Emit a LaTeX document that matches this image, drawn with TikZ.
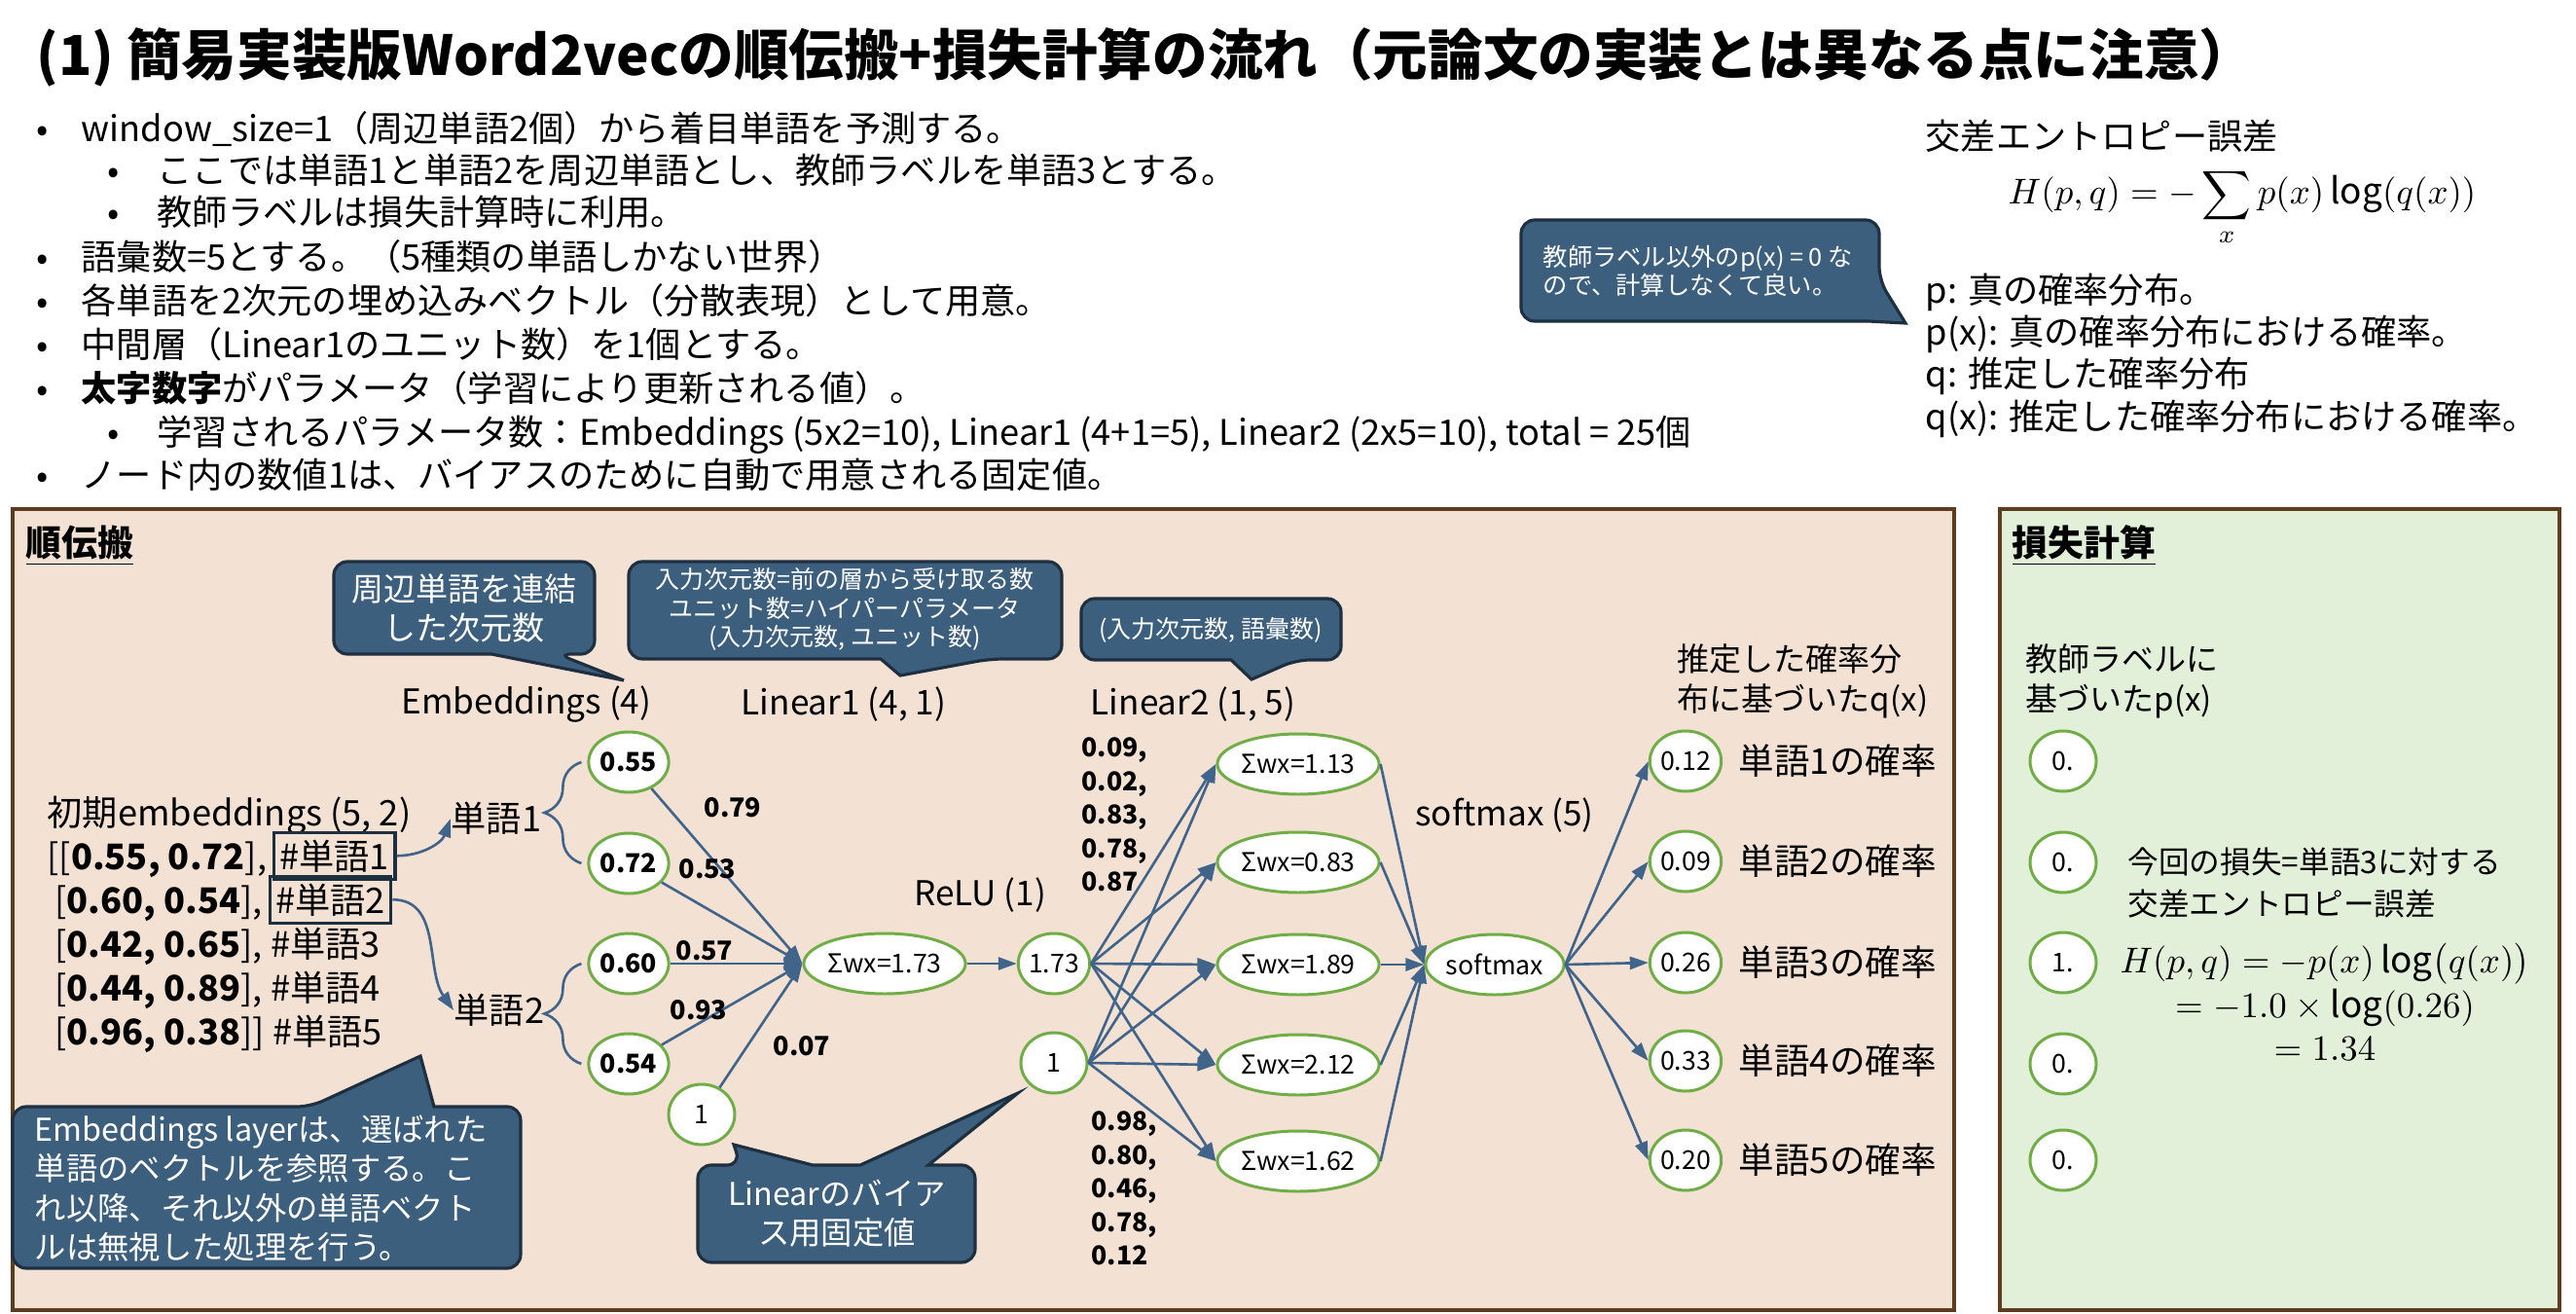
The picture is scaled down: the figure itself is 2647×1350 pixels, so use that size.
\documentclass[tikz,border=0pt]{standalone}
\usepackage{fix-cm}
\usepackage{fontspec}
\setmainfont{Noto Sans CJK JP}
\usetikzlibrary{arrows.meta,shapes.geometric,decorations.pathreplacing}

\definecolor{lineblue}{HTML}{41648A}
\definecolor{nodegreen}{HTML}{70AD47}
\definecolor{calloutfill}{HTML}{3C5F7E}
\definecolor{calloutline}{HTML}{1E2F40}
\definecolor{fwdfill}{HTML}{F3E1D3}
\definecolor{lossfill}{HTML}{E2F0D9}
\definecolor{panelline}{HTML}{5E3C1F}

\newcommand{\fsz}[2]{\fontsize{#1}{#2}\selectfont}

\begin{document}
\begin{tikzpicture}[x=0.1mm,y=-0.1mm,
  neuron/.style={ellipse,draw=nodegreen,line width=0.85pt,fill=white,inner sep=0pt,
    minimum width=6.8mm,minimum height=6.2mm,font=\fsz{7.6}{9}},
  sumnode/.style={neuron,minimum width=16.2mm},
  conn/.style={draw=lineblue,line width=0.75pt,-{Triangle[length=1.9mm,width=1.3mm]}},
  brc/.style={draw=lineblue,line width=0.75pt,decorate,decoration={brace,amplitude=3.8mm}},
  wlab/.style={font=\bfseries\fsz{7.7}{9},inner sep=0pt},
  wcol/.style={font=\bfseries\fsz{7.6}{9.85},align=left,inner sep=0pt},
  lay/.style={font=\fsz{10}{12},inner sep=0pt},
  body/.style={font=\fsz{10.3}{12.5},inner sep=0pt},
  panel/.style={draw=panelline,line width=1.2pt},
  callout/.style={fill=calloutfill,draw=calloutline,line width=0.9pt},
  callouttext/.style={text=white,align=center,inner sep=0pt},
  tagbox/.style={draw=calloutline,line width=0.9pt,inner xsep=0.6mm,inner ysep=0pt,
    minimum height=4.8mm,font=\fsz{10.3}{12}}]

  \fill[white] (0,0) rectangle (2647,1350);
  \useasboundingbox (0,0) rectangle (2647,1350);

  % title and notes
  \node[anchor=base west,font=\bfseries\fsz{16.1}{18},inner sep=0pt] (title) at (37,78)
    {(1) 簡易実装版Word2vecの順伝搬+損失計算の流れ（元論文の実装とは異なる点に注意）};
  \foreach \yy/\xx/\bx/\txt [count=\k] in {
    146/83/44/{window\_size=1（周辺単語2個）から着目単語を予測する。},
    189/161/117/{ここでは単語1と単語2を周辺単語とし、教師ラベルを単語3とする。},
    232/161/117/{教師ラベルは損失計算時に利用。},
    277/83/44/{語彙数=5とする。（5種類の単語しかない世界）},
    322/83/44/{各単語を2次元の埋め込みベクトル（分散表現）として用意。},
    367/83/44/{中間層（Linear1のユニット数）を1個とする。},
    412/83/44/{\textbf{太字数字}がパラメータ（学習により更新される値）。},
    457/161/117/{学習されるパラメータ数：Embeddings (5x2=10), Linear1 (4+1=5), Linear2 (2x5=10), total = 25個},
    501/83/44/{ノード内の数値1は、バイアスのために自動で用意される固定値。}} {
    \node[body,anchor=base] (dot\k) at (\bx,\yy) {•};
    \node[body,anchor=base west] (bl\k) at (\xx,\yy) {\txt};
  }

  % cross entropy
  \node[body,anchor=base west] (cehead) at (1978,154) {交差エントロピー誤差};
  \node[font=\fsz{10.5}{12}] (ceform) at (2304,213)
    {$\displaystyle H(p,q)=-\sum_x p(x)\log(q(x))$};
  \node[body,anchor=base west] (def1) at (1978,311) {p: 真の確率分布。};
  \node[body,anchor=base west] (def2) at (1978,354) {p(x): 真の確率分布における確率。};
  \node[body,anchor=base west] (def3) at (1978,397) {q: 推定した確率分布};
  \node[body,anchor=base west] (def4) at (1978,441) {q(x): 推定した確率分布における確率。};

  \draw[callout] (1747,226) [rounded corners=1.4mm] -- (1931,226) -- (1931,288)
    [sharp corners] -- (1958,332) -- (1920,330) [rounded corners=1.4mm] -- (1563,330)
    -- (1563,226) -- cycle;
  \node[callouttext,align=left,anchor=west,font=\fsz{7.2}{8.3}] (c4) at (1585,278)
    {教師ラベル以外のp(x) = 0 な\\ので、計算しなくて良い。};

  % panels
  \draw[panel,fill=fwdfill] (13,523) rectangle (2008,1346);
  \draw[panel,fill=lossfill] (2055,523) rectangle (2630,1346);
  \node[anchor=base west,font=\bfseries\fsz{10.5}{12},inner sep=0pt] (fwdhead) at (26,571) {\underline{順伝搬}};
  \node[anchor=base west,font=\bfseries\fsz{10.5}{12},inner sep=0pt] (losshead) at (2067,571) {\underline{損失計算}};

  % callouts
  \draw[callout] (477,577) [rounded corners=1.4mm] -- (611,577) -- (611,672) -- (573,672)
    [sharp corners] -- (641,699) -- (505,672) [rounded corners=1.4mm] -- (343,672)
    -- (343,577) -- cycle;
  \node[callouttext,font=\fsz{9.4}{11.4}] (c1) at (477,625) {周辺単語を連結\\した次元数};
  \draw[callout] (868,577) [rounded corners=1.4mm] -- (1091,577) -- (1091,677) -- (1017,677)
    [sharp corners] -- (925,694) -- (905,677) [rounded corners=1.4mm] -- (646,677)
    -- (646,577) -- cycle;
  \node[callouttext,font=\fsz{7.1}{8.5}] (c2) at (868,626)
    {入力次元数=前の層から受け取る数\\ユニット数=ハイパーパラメータ\\(入力次元数, ユニット数)};
  \draw[callout] (1244,615) [rounded corners=1.4mm] -- (1378,615) -- (1378,678) -- (1332,678)
    [sharp corners] -- (1286,698) -- (1265,678) [rounded corners=1.4mm] -- (1111,678)
    -- (1111,615) -- cycle;
  \node[callouttext,font=\fsz{7.1}{8.5}] (c3) at (1244,647) {(入力次元数, 語彙数)};
  \draw[callout] (274,1303) [rounded corners=1.4mm] -- (13,1303) -- (13,1137) -- (319,1137)
    [sharp corners] -- (432,1085) -- (446,1137) [rounded corners=1.4mm] -- (535,1137)
    -- (535,1303) -- cycle;
  \node[callouttext,align=left,anchor=west,font=\fsz{9.2}{11.4}] (c5) at (35,1221)
    {Embeddings layerは、選ばれた\\単語のベクトルを参照する。こ\\れ以降、それ以外の単語ベクト\\ルは無視した処理を行う。};
  \draw[callout] (717,1250) [rounded corners=1.4mm] -- (717,1197) -- (761,1197)
    [sharp corners] -- (754,1176) -- (835,1197) -- (884,1197) -- (1046,1123) -- (954,1197)
    [rounded corners=1.4mm] -- (1002,1197) -- (1002,1297) -- (717,1297) -- cycle;
  \node[callouttext,font=\fsz{9.2}{11.4}] (c6) at (860,1247) {Linearのバイア\\ス用固定値};

  % embeddings table
  \node[lay,anchor=base west,font=\fsz{10.3}{12}] (initlab) at (48,848) {初期embeddings (5, 2)};
  \node[anchor=base west,font=\fsz{10.3}{12},inner sep=0pt] (m1) at (48,893) {[[\textbf{0.55, 0.72}],};
  \node[tagbox,anchor=base west] (t1) at ([xshift=0.5mm]m1.base east) {\#単語1};
  \node[anchor=base west,font=\fsz{10.3}{12},inner sep=0pt] (m2) at (56,938) {[\textbf{0.60, 0.54}],};
  \node[tagbox,anchor=base west] (t2) at ([xshift=0.5mm]m2.base east) {\#単語2};
  \node[anchor=base west,font=\fsz{10.3}{12},inner sep=0pt] (m3) at (56,983) {[\textbf{0.42, 0.65}], \#単語3};
  \node[anchor=base west,font=\fsz{10.3}{12},inner sep=0pt] (m4) at (56,1028) {[\textbf{0.44, 0.89}], \#単語4};
  \node[anchor=base west,font=\fsz{10.3}{12},inner sep=0pt] (m5) at (56,1073) {[\textbf{0.96, 0.38}]] \#単語5};
  \node[lay,font=\fsz{10.3}{12}] (w1lab) at (510,841) {単語1};
  \node[lay,font=\fsz{10.3}{12}] (w2lab) at (513,1038) {単語2};
  \draw[conn] (t1.east) to[out=0,in=-110] (w1lab.west);
  \draw[conn] (t2.east) to[out=0,in=125] (w2lab.west);

  % layer labels
  \node[lay] (laemb) at (541,724) {Embeddings (4)};
  \node[lay] (lalin1) at (867,724) {Linear1 (4, 1)};
  \node[lay] (lalin2) at (1226,724) {Linear2 (1, 5)};
  \node[lay] (larelu) at (1007,920) {ReLU (1)};
  \node[lay] (lasoft) at (1546,838) {softmax (5)};

  % network nodes
  \node[neuron,font=\bfseries\fsz{7.6}{9}] (e1) at (646,783) {0.55};
  \node[neuron,font=\bfseries\fsz{7.6}{9}] (e2) at (646,887) {0.72};
  \node[neuron,font=\bfseries\fsz{7.6}{9}] (e3) at (646,990) {0.60};
  \node[neuron,font=\bfseries\fsz{7.6}{9}] (e4) at (646,1093) {0.54};
  \node[neuron] (eb) at (721,1145) {1};
  \node[sumnode,minimum width=16.6mm] (h1) at (909,990) {Σwx=1.73};
  \node[neuron] (r1) at (1083,990) {1.73};
  \node[neuron] (rb) at (1083,1092) {1};
  \foreach \i/\yy/\v in {1/785/1.13,2/886/0.83,3/991/1.89,4/1094/2.12,5/1193/1.62}
    \node[sumnode] (s\i) at (1334,\yy) {Σwx=\v};
  \node[sumnode,minimum width=12.8mm] (sm) at (1536,991) {softmax};
  \foreach \i/\yy/\v in {1/782/0.12,2/885/0.09,3/989/0.26,4/1090/0.33,5/1192/0.20} {
    \node[neuron] (o\i) at (1732,\yy) {\v};
    \node[lay,anchor=west,font=\fsz{10.4}{12}] (ol\i) at (1786,\yy) {単語\i{}の確率};
  }
  \foreach \i/\yy/\v in {1/782/0.,2/886/0.,3/989/1.,4/1093/0.,5/1192/0.}
    \node[neuron] (p\i) at (2120,\yy) {\v};

  \draw[brc] ([xshift=-0.6mm]e2.west) -- ([xshift=-0.6mm]e1.west);
  \draw[brc] ([xshift=-0.6mm]e4.west) -- ([xshift=-0.6mm]e3.west);

  % connections
  \foreach \n in {e1,e2,e3,e4,eb}
    \draw[conn] (\n) -- (h1.west);
  \draw[conn] (h1) -- (r1);
  \foreach \i in {1,...,5} {
    \draw[conn] (r1.east) -- (s\i.west);
    \draw[conn] (rb.east) -- (s\i.west);
    \draw[conn] (s\i.east) -- (sm.west);
    \draw[conn] (sm.east) -- (o\i.west);
  }

  % weights
  \node[wlab] (w79) at (753,830) {0.79};
  \node[wlab] (w53) at (727,893) {0.53};
  \node[wlab] (w57) at (724,977) {0.57};
  \node[wlab] (w93) at (718,1038) {0.93};
  \node[wlab] (w07) at (824,1075) {0.07};
  \node[wcol,anchor=west] (wup) at (1111,837) {0.09,\\0.02,\\0.83,\\0.78,\\0.87};
  \node[wcol,anchor=west] (wlo) at (1121,1221) {0.98,\\0.80,\\0.46,\\0.78,\\0.12};

  % outputs and loss
  \node[lay,anchor=west,align=left,font=\fsz{9.4}{11.7}] (qlab) at (1723,700) {推定した確率分\\布に基づいたq(x)};
  \node[lay,anchor=west,align=left,font=\fsz{9.4}{11.7}] (plab) at (2081,700) {教師ラベルに\\基づいたp(x)};
  \node[lay,anchor=west,align=left,font=\fsz{9}{12}] (lossnote) at (2186,907) {今回の損失=単語3に対する\\交差エントロピー誤差};
  \node[font=\fsz{10.5}{12},inner sep=0pt] (lossf1) at (2389,990) {$H(p,q)=-p(x)\log\bigl(q(x)\bigr)$};
  \node[font=\fsz{10.5}{12},inner sep=0pt] (lossf2) at (2389,1035) {$=-1.0\times\log(0.26)$};
  \node[font=\fsz{10.5}{12},inner sep=0pt] (lossf3) at (2389,1078) {$=1.34$};
\end{tikzpicture}
\end{document}
